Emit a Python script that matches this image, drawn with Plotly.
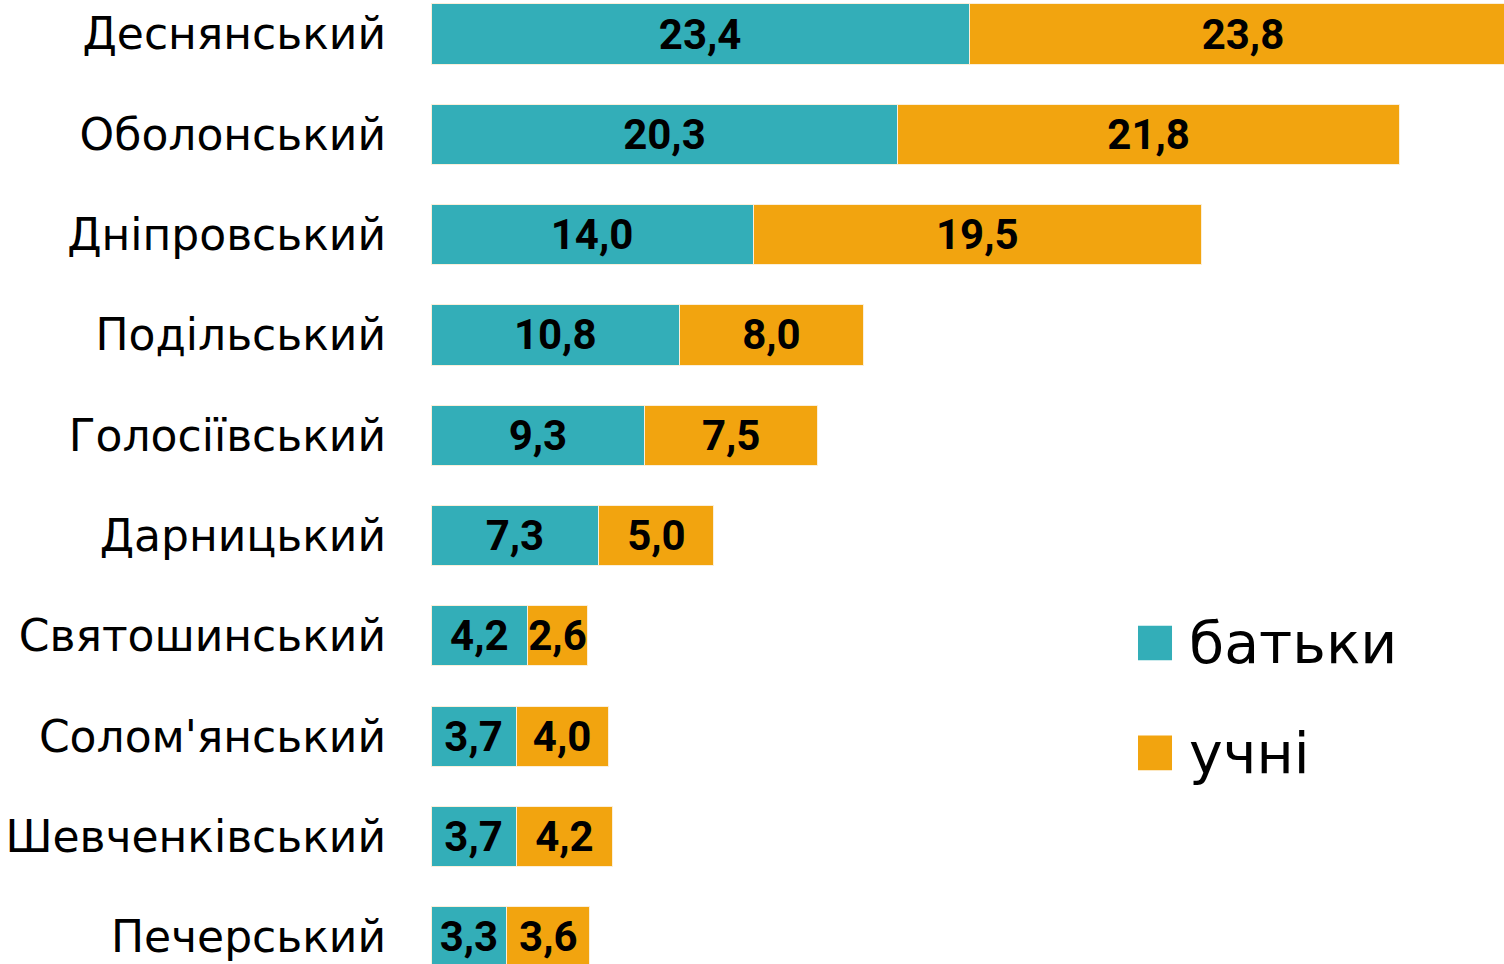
import plotly.graph_objects as go

districts = ["Деснянський", "Оболонський", "Дніпровський", "Подільський", "Голосіївський",
             "Дарницький", "Святошинський", "Солом'янський", "Шевченківський", "Печерський"]
parents = [23.4, 20.3, 14.0, 10.8, 9.3, 7.3, 4.2, 3.7, 3.7, 3.3]
pupils = [23.8, 21.8, 19.5, 8.0, 7.5, 5.0, 2.6, 4.0, 4.2, 3.6]
series_names = ["батьки", "учні"]
colors = ["#33AEB8", "#F2A40F"]


def fmt(v):
    return f"{v:.1f}".replace(".", ",")


fig = go.Figure()
for name, vals, col in zip(series_names, [parents, pupils], colors):
    fig.add_trace(go.Bar(
        y=districts, x=vals, name=name, orientation="h",
        marker=dict(color=col, line=dict(color="#FBEFD9", width=1)),
        text=[fmt(v) for v in vals], textposition="inside", textangle=0,
        insidetextanchor="middle", constraintext="none",
        textfont=dict(family="Roboto", size=42, color="black", weight="bold"),
        width=0.6, showlegend=False,
    ))

# legend drawn by hand to get the large squares
for i, (name, col) in enumerate(zip(series_names, colors)):
    yc = 0.333 - i * 0.114
    fig.add_shape(type="rect", xref="paper", yref="paper",
                  x0=0.6589, x1=0.6906, y0=yc - 0.018, y1=yc + 0.018,
                  fillcolor=col, line_width=0)
    fig.add_annotation(xref="paper", yref="paper", x=0.705, y=yc,
                       text=name, showarrow=False, xanchor="left", yanchor="middle",
                       font=dict(family="DejaVu Sans", size=57, color="black"))

fig.update_layout(
    barmode="stack", width=1504, height=964,
    margin=dict(l=431, r=0, t=0, b=0),
    plot_bgcolor="white", paper_bgcolor="white",
    uniformtext=dict(minsize=42, mode="show"),
    xaxis=dict(range=[0, 46.65], visible=False),
    yaxis=dict(range=[9.272, -0.339], showgrid=False, showline=False, ticks="",
               ticklabelstandoff=44, automargin=False,
               tickfont=dict(family="DejaVu Sans", size=44, color="black")),
)

fig.write_html("out.html", config={"displayModeBar": False},
               post_script="document.body.style.margin='0';document.body.style.overflow='hidden';")
